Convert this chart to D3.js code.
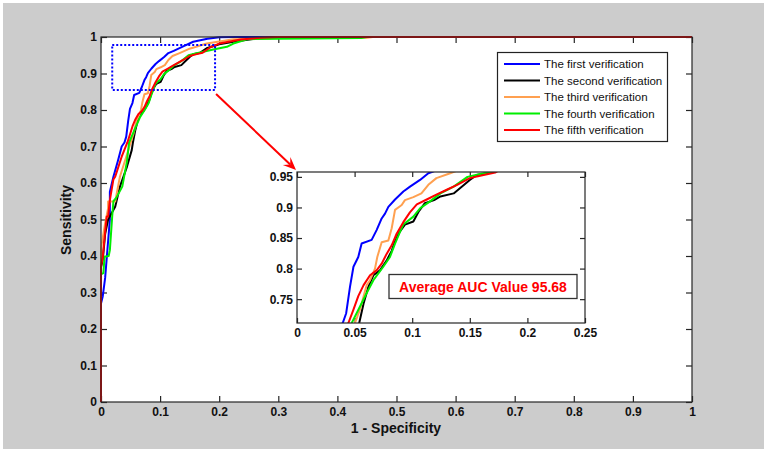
<!DOCTYPE html>
<html>
<head>
<meta charset="utf-8">
<script src="https://cdn.jsdelivr.net/npm/d3@7"></script>
<style>
  html, body { margin: 0; padding: 0; background: #ffffff; }
  svg { display: block; }
  text { font-family: "Liberation Sans", Arial, sans-serif; }
</style>
</head>
<body>
<script>
// ---------------- DATA ----------------
const seriesNames = ["The first verification", "The second verification", "The third verification", "The fourth verification", "The fifth verification"];
const seriesColors = ["#0000ff", "#000000", "#ffa050", "#00ee00", "#ff0000"];

// ROC points [1 - specificity, sensitivity]
const firstVerification = [[0,0],[0,0.27],[0.003,0.29],[0.007,0.34],[0.010,0.40],[0.015,0.50],[0.015,0.576],[0.021,0.617],[0.029,0.663],[0.035,0.70],[0.0397,0.711],[0.0427,0.727],[0.046,0.770],[0.049,0.803],[0.0532,0.819],[0.0561,0.841],[0.0648,0.847],[0.0691,0.863],[0.0735,0.882],[0.0764,0.890],[0.0793,0.901],[0.0851,0.913],[0.0923,0.926],[0.0981,0.934],[0.1068,0.945],[0.114,0.956],[0.123,0.962],[0.140,0.975],[0.156,0.987],[0.180,0.995],[0.200,0.999],[0.230,1],[1,1]];
const secondVerification = [[0,0],[0,0.37],[0.003,0.39],[0.007,0.46],[0.012,0.50],[0.024,0.535],[0.032,0.59],[0.044,0.645],[0.052,0.69],[0.054,0.711],[0.0578,0.743],[0.0619,0.770],[0.0663,0.789],[0.072,0.797],[0.0778,0.813],[0.0822,0.829],[0.0851,0.845],[0.0894,0.861],[0.0937,0.872],[0.101,0.877],[0.1055,0.893],[0.111,0.907],[0.119,0.912],[0.1245,0.918],[0.136,0.923],[0.143,0.934],[0.150,0.945],[0.156,0.953],[0.168,0.957],[0.180,0.970],[0.200,0.980],[0.224,0.987],[0.260,0.995],[0.300,1],[1,1]];
const thirdVerification = [[0,0],[0,0.42],[0.005,0.47],[0.007,0.49],[0.012,0.53],[0.012,0.549],[0.024,0.549],[0.032,0.617],[0.041,0.663],[0.0503,0.711],[0.055,0.735],[0.0605,0.773],[0.0634,0.781],[0.0677,0.80],[0.0697,0.819],[0.0735,0.843],[0.0793,0.846],[0.0822,0.866],[0.0851,0.896],[0.0909,0.904],[0.0937,0.912],[0.101,0.917],[0.108,0.923],[0.114,0.937],[0.121,0.948],[0.133,0.956],[0.150,0.968],[0.179,0.982],[0.224,0.994],[0.300,0.997],[0.450,0.998],[0.460,1],[1,1]];
const fourthVerification = [[0,0],[0,0.35],[0.004,0.353],[0.006,0.398],[0.013,0.40],[0.015,0.416],[0.019,0.51],[0.021,0.55],[0.026,0.56],[0.036,0.59],[0.044,0.66],[0.0475,0.711],[0.0547,0.738],[0.0605,0.76],[0.0663,0.781],[0.0749,0.803],[0.0807,0.819],[0.0851,0.841],[0.0894,0.86],[0.0923,0.872],[0.101,0.885],[0.107,0.899],[0.1155,0.910],[0.1245,0.923],[0.136,0.934],[0.148,0.950],[0.160,0.955],[0.190,0.966],[0.213,0.973],[0.224,0.982],[0.247,0.994],[0.300,0.995],[0.440,0.997],[0.450,1],[1,1]];
const fifthVerification = [[0,0],[0,0.37],[0.003,0.398],[0.0068,0.463],[0.0097,0.508],[0.012,0.508],[0.015,0.553],[0.021,0.61],[0.024,0.617],[0.035,0.672],[0.0446,0.711],[0.049,0.733],[0.0532,0.755],[0.0578,0.773],[0.0634,0.789],[0.0691,0.797],[0.0735,0.808],[0.0778,0.824],[0.0822,0.838],[0.0865,0.857],[0.0923,0.876],[0.098,0.892],[0.104,0.905],[0.1126,0.913],[0.121,0.921],[0.130,0.929],[0.139,0.937],[0.150,0.948],[0.162,0.953],[0.172,0.957],[0.185,0.972],[0.200,0.982],[0.236,0.993],[0.270,0.998],[0.300,1],[1,1]];
const seriesData = [firstVerification, secondVerification, thirdVerification, fourthVerification, fifthVerification];

const mainXTicks = [0,0.1,0.2,0.3,0.4,0.5,0.6,0.7,0.8,0.9,1];
const mainYTicks = [0,0.1,0.2,0.3,0.4,0.5,0.6,0.7,0.8,0.9,1];
const insetXTicks = [0,0.05,0.1,0.15,0.2,0.25];
const insetYTicks = [0.75,0.8,0.85,0.9,0.95];
const zoomBox = { x0: 0.019, x1: 0.193, y0: 0.855, y1: 0.978 };
const aucText = "Average AUC Value 95.68";

// ---------------- LAYOUT ----------------
const W = 769, H = 454;
const svg = d3.select("body").append("svg").attr("width", W).attr("height", H);

svg.append("rect").attr("x", 3).attr("y", 3).attr("width", 761).attr("height", 446).attr("fill", "#cccccc");

const main = { left: 101, right: 692, top: 37, bottom: 402 };
const x = d3.scaleLinear().domain([0, 1]).range([main.left, main.right]);
const y = d3.scaleLinear().domain([0, 1]).range([main.bottom, main.top]);

svg.append("rect").attr("x", main.left).attr("y", main.top)
  .attr("width", main.right - main.left).attr("height", main.bottom - main.top).attr("fill", "#fff");

function drawAxes(g, xs, ys, xt, yt, tickLen, fmtX, fmtY, fontSize) {
  const [xl, xr] = xs.range();
  const [yb, yt0] = ys.range();
  const bottom = g.append("g").attr("transform", `translate(0,${yb})`)
    .call(d3.axisBottom(xs).tickValues(xt).tickSizeInner(-tickLen).tickSizeOuter(0).tickPadding(4).tickFormat(fmtX));
  const top = g.append("g").attr("transform", `translate(0,${yt0})`)
    .call(d3.axisTop(xs).tickValues(xt).tickSizeInner(-tickLen).tickSizeOuter(0).tickFormat(""));
  const left = g.append("g").attr("transform", `translate(${xl},0)`)
    .call(d3.axisLeft(ys).tickValues(yt).tickSizeInner(-tickLen).tickSizeOuter(0).tickFormat(fmtY));
  const right = g.append("g").attr("transform", `translate(${xr},0)`)
    .call(d3.axisRight(ys).tickValues(yt).tickSizeInner(-tickLen).tickSizeOuter(0).tickFormat(""));
  [bottom, top, left, right].forEach(a => {
    a.select(".domain").remove();
    a.selectAll("line").attr("stroke", "#262626").attr("stroke-width", 1.2);
    a.selectAll("text").attr("font-size", fontSize).attr("font-weight", "bold").attr("fill", "#111");
  });
  bottom.selectAll("text").attr("dy", null).attr("y", 14).attr("dominant-baseline", "auto");
  left.selectAll("text").attr("x", -4);
  return { bottom, left };
}

const fmt = d => d3.format("")(+d.toFixed(2));

// main axes
const mg = svg.append("g");
drawAxes(mg, x, y, mainXTicks, mainYTicks, 6, fmt, fmt, 12);

const line = (xs, ys) => d3.line().x(d => xs(d[0])).y(d => ys(d[1])).curve(d3.curveLinear);

svg.append("clipPath").attr("id", "clipMain").append("rect")
  .attr("x", main.left - 1).attr("y", main.top - 1).attr("width", main.right - main.left + 2).attr("height", main.bottom - main.top + 2);

const curvesMain = svg.append("g").attr("clip-path", "url(#clipMain)");
seriesData.forEach((s, i) => {
  curvesMain.append("path").attr("d", line(x, y)(s)).attr("fill", "none")
    .attr("stroke", seriesColors[i]).attr("stroke-width", 2).attr("stroke-linejoin", "round");
});

svg.append("rect").attr("x", main.left).attr("y", main.top)
  .attr("width", main.right - main.left).attr("height", main.bottom - main.top)
  .attr("fill", "none").attr("stroke", "#262626").attr("stroke-width", 1.2);

// zoom dotted rectangle
svg.append("rect")
  .attr("x", x(zoomBox.x0)).attr("y", y(zoomBox.y1))
  .attr("width", x(zoomBox.x1) - x(zoomBox.x0)).attr("height", y(zoomBox.y0) - y(zoomBox.y1))
  .attr("fill", "none").attr("stroke", "#0000ff").attr("stroke-width", 2).attr("stroke-dasharray", "2,2");

// axis titles
svg.append("text").attr("x", 396).attr("y", 433).attr("text-anchor", "middle")
  .attr("font-size", 14).attr("font-weight", "bold").attr("fill", "#111").text("1 - Specificity");
svg.append("text").attr("transform", "translate(71,220) rotate(-90)").attr("text-anchor", "middle")
  .attr("font-size", 14).attr("font-weight", "bold").attr("fill", "#111").text("Sensitivity");

// legend
const lg = svg.append("g");
lg.append("rect").attr("x", 497.5).attr("y", 52.5).attr("width", 170).attr("height", 89)
  .attr("fill", "#fff").attr("stroke", "#222").attr("stroke-width", 1.2);
seriesNames.forEach((n, i) => {
  const cy = 64 + i * 16.5;
  lg.append("line").attr("x1", 504).attr("x2", 540).attr("y1", cy).attr("y2", cy)
    .attr("stroke", seriesColors[i]).attr("stroke-width", 2);
  lg.append("text").attr("x", 544).attr("y", cy + 4.2).attr("font-size", 11.5).attr("fill", "#111").text(n);
});

// arrow
const ax0 = x(zoomBox.x1) + 1, ay0 = y(zoomBox.y0) + 4, ax1 = 296, ay1 = 170;
const ang = Math.atan2(ay1 - ay0, ax1 - ax0);
svg.append("line").attr("x1", ax0).attr("y1", ay0).attr("x2", ax1 - 8 * Math.cos(ang)).attr("y2", ay1 - 8 * Math.sin(ang))
  .attr("stroke", "#ff0000").attr("stroke-width", 2);
const hl = 13, hw = 5.5;
const bx = ax1 - hl * Math.cos(ang), by = ay1 - hl * Math.sin(ang);
svg.append("path").attr("d", `M${ax1},${ay1}L${bx + hw * Math.sin(ang)},${by - hw * Math.cos(ang)}L${ax1 - 8 * Math.cos(ang)},${ay1 - 8 * Math.sin(ang)}L${bx - hw * Math.sin(ang)},${by + hw * Math.cos(ang)}Z`)
  .attr("fill", "#ff0000");

// inset
const ins = { left: 297, right: 585, top: 172, bottom: 323 };
const xi = d3.scaleLinear().domain([0, 0.25]).range([ins.left, ins.right]);
const yi = d3.scaleLinear().domain([0.711, 0.958]).range([ins.bottom, ins.top]);
svg.append("rect").attr("x", ins.left).attr("y", ins.top)
  .attr("width", ins.right - ins.left).attr("height", ins.bottom - ins.top).attr("fill", "#fff");
svg.append("clipPath").attr("id", "clipInset").append("rect")
  .attr("x", ins.left).attr("y", ins.top).attr("width", ins.right - ins.left).attr("height", ins.bottom - ins.top);
const ig = svg.append("g");
drawAxes(ig, xi, yi, insetXTicks, insetYTicks, 5, fmt, fmt, 12);
const curvesInset = svg.append("g").attr("clip-path", "url(#clipInset)");
seriesData.forEach((s, i) => {
  curvesInset.append("path").attr("d", line(xi, yi)(s)).attr("fill", "none")
    .attr("stroke", seriesColors[i]).attr("stroke-width", 2).attr("stroke-linejoin", "round");
});
svg.append("rect").attr("x", ins.left).attr("y", ins.top)
  .attr("width", ins.right - ins.left).attr("height", ins.bottom - ins.top)
  .attr("fill", "none").attr("stroke", "#262626").attr("stroke-width", 1.2);

// AUC box
svg.append("rect").attr("x", 389).attr("y", 274.5).attr("width", 188).attr("height", 24)
  .attr("fill", "#fff").attr("stroke", "#333").attr("stroke-width", 1.3);
svg.append("text").attr("x", 483).attr("y", 291.5).attr("text-anchor", "middle")
  .attr("font-size", 14).attr("font-weight", "bold").attr("fill", "#ff0000").text(aucText);
</script>
</body>
</html>
